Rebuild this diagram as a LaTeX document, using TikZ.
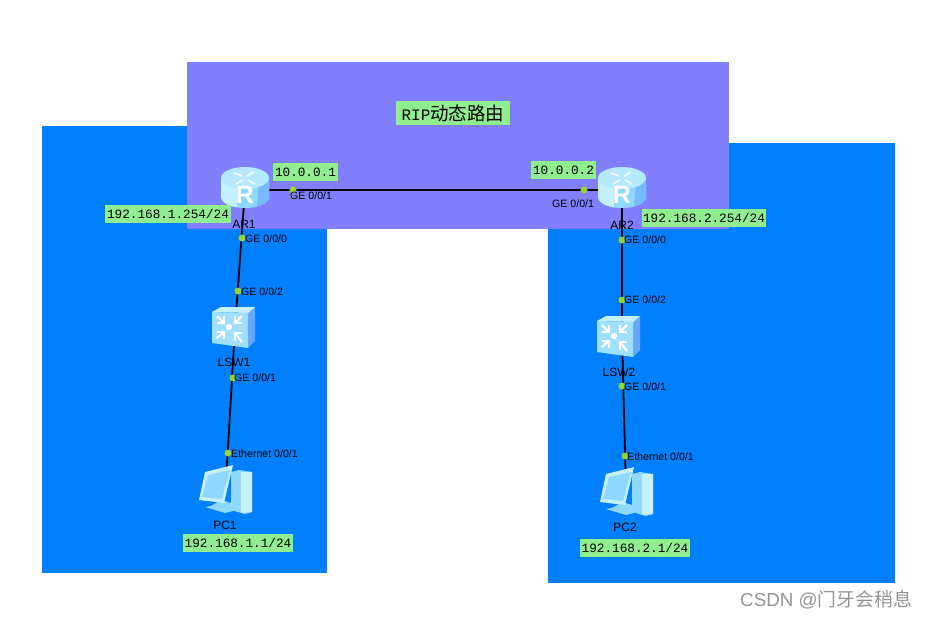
\documentclass[tikz,border=0pt]{standalone}
\usepackage{fontspec}
\setmainfont{Liberation Sans}
\setmonofont{Liberation Mono}
\newfontfamily\cjk{Noto Sans CJK SC}
\definecolor{areablue}{HTML}{0080FF}
\definecolor{areapurple}{HTML}{8080FF}
\definecolor{notegreen}{HTML}{90EE90}
\definecolor{portgreen}{HTML}{9AD02F}
\definecolor{iconlight}{HTML}{C4F0FF}
\definecolor{iconmid}{HTML}{8FD8FF}
\definecolor{icondark}{HTML}{66A8FF}
\tikzset{
  devname/.style={inner sep=0pt,font=\fontsize{12}{14}\selectfont},
  iflabel/.style={inner sep=0pt,font=\fontsize{10.6}{12}\selectfont},
  port/.style={circle,fill=portgreen,inner sep=0pt,minimum size=7pt},
  hub/.style={inner sep=0pt,minimum size=0pt},
  note/.style={fill=notegreen,inner sep=0pt,minimum height=18pt,font=\ttfamily\fontsize{12.7}{14}\selectfont},
  link/.style={line width=1.8pt,black},
  router/.pic={
    \fill[iconmid] (-24,-9) -- (-24,10) arc[start angle=180,end angle=0,x radius=24,y radius=11]
      -- (24,-9) -- cycle;
    \fill[iconlight] (-24,10) arc[start angle=180,end angle=110,x radius=24,y radius=11]
      -- (-8,-5) -- (-24,-9) -- cycle;
    \fill[icondark!60!iconmid] (24,10) arc[start angle=0,end angle=60,x radius=24,y radius=11]
      -- (14,-5) -- (24,-9) -- cycle;
    \fill[iconlight!70!iconmid] (0,-9) ellipse[x radius=24,y radius=11];
    \draw[white,line width=1.8pt,opacity=.8] (-11,-14) -- (-3,-11) (9,-15) -- (2,-11)
      (-9,-3) -- (-2,-7) (10,-3) -- (3,-7);
    \node[inner sep=0pt,white,font=\bfseries\fontsize{25}{26}\selectfont] at (0,8) {R};
  },
  switchbox/.pic={
    \fill[icondark] (12,-16) -- (22,-21) -- (22,13) -- (15,20) -- cycle;
    \fill[iconlight] (-21,-16) -- (-12,-21) -- (22,-21) -- (15,-15) -- cycle;
    \fill[iconmid!70!iconlight] (-21,-16) -- (15,-15) -- (15,20) -- (-21,15) -- cycle;
    \fill[white] (-4,-1) circle (3.2);
    \draw[white,line width=2.2pt] (-16,-12) -- (-9,-5) (9,-12) -- (2,-5)
      (-16,10) -- (-9,4) (9,14) -- (2,5);
    \draw[white,line width=1.2pt] (-16,-5) -- (-9,-5) -- (-9,-12) (2,-12) -- (2,-5) -- (9,-5)
      (-16,4) -- (-9,4) -- (-9,11) (2,13) -- (2,5) -- (9,5);
  },
  pcset/.pic={
    \fill[iconmid] (6,-20) -- (14,-22) -- (27,-20) -- (27,20) -- (20,22) -- (6,18) -- cycle;
    \fill[iconlight] (16,-20) -- (27,-20) -- (27,20) -- (16,21) -- cycle;
    \fill[iconmid] (-14,14) -- (-4,8) -- (10,12) -- (8,19) -- (0,21) -- (-20,15) -- cycle;
    \fill[iconlight] (-20,-20) -- (8,-27) -- (-1,11) -- (-26,8) -- cycle;
    \fill[iconmid] (-17,-17) -- (5,-22) -- (-3,7) -- (-23,5) -- cycle;
  },
}
\begin{document}
\begin{tikzpicture}[x=1pt,y=-1pt]
  \useasboundingbox (0,0) rectangle (928,619);
  \fill[white] (0,0) rectangle (928,619);
  \fill[areablue] (42,126) rectangle (327,573);
  \fill[areablue] (548,143) rectangle (895,583);
  \fill[areapurple] (187,62) rectangle (729,229);

  \node[hub] (AR1) at (245,190) {};
  \node[hub] (AR2) at (622,190) {};
  \node[hub] (LSW1) at (235,328) {};
  \node[hub] (LSW2) at (622,337) {};
  \node[hub] (PC1) at (225.5,490) {};
  \node[hub] (PC2) at (626,490) {};
  \draw[link] (AR1) -- (AR2);
  \draw[link] (AR1) -- (LSW1);
  \draw[link] (LSW1) -- (PC1);
  \draw[link] (AR2) -- (LSW2);
  \draw[link] (LSW2) -- (PC2);

  \pic at (245,187) {router};
  \pic at (622,187) {router};
  \pic at (233,328) {switchbox};
  \pic at (618,337) {switchbox};
  \pic at (225,492) {pcset};
  \pic at (626,494) {pcset};

  \node[devname] (nameAR1) at (244,224) {AR1};
  \node[devname] (nameAR2) at (622,225) {AR2};
  \node[devname] (nameLSW1) at (234,362) {LSW1};
  \node[devname] (nameLSW2) at (619,372) {LSW2};
  \node[devname] (namePC1) at (225,525) {PC1};
  \node[devname] (namePC2) at (625,527) {PC2};

  \node[port] (a1) at (293,190) {};
  \node[port] (a2) at (584,190) {};
  \node[port] (a3) at (242,238) {};
  \node[port] (a4) at (238,291) {};
  \node[port] (a5) at (233,378) {};
  \node[port] (a6) at (228,453) {};
  \node[port] (b3) at (622,240) {};
  \node[port] (b4) at (622,300) {};
  \node[port] (b5) at (622,386) {};
  \node[port] (b6) at (625,456) {};
  \node[iflabel,anchor=west] (la1) at (290,196) {GE 0/0/1};
  \node[iflabel,anchor=west] (la2) at (552,204) {GE 0/0/1};
  \node[iflabel,anchor=west] (la3) at (245,239) {GE 0/0/0};
  \node[iflabel,anchor=west] (la4) at (241,292) {GE 0/0/2};
  \node[iflabel,anchor=west] (la5) at (234,378) {GE 0/0/1};
  \node[iflabel,anchor=west] (la6) at (231,454) {Ethernet 0/0/1};
  \node[iflabel,anchor=west] (lb3) at (624,240) {GE 0/0/0};
  \node[iflabel,anchor=west] (lb4) at (624,300) {GE 0/0/2};
  \node[iflabel,anchor=west] (lb5) at (624,387) {GE 0/0/1};
  \node[iflabel,anchor=west] (lb6) at (627,457) {Ethernet 0/0/1};

  \node[note,minimum width=65pt] (ipa) at (305.5,172) {10.0.0.1};
  \node[note,minimum width=65pt] (ipb) at (563.5,170) {10.0.0.2};
  \node[note,minimum width=126pt] (lana) at (168,214) {192.168.1.254/24};
  \node[note,minimum width=124pt] (lanb) at (704,218) {192.168.2.254/24};
  \node[note,minimum width=110pt] (hosta) at (238,543) {192.168.1.1/24};
  \node[note,minimum width=110pt] (hostb) at (635,548) {192.168.2.1/24};
  \node[fill=notegreen,inner sep=0pt,minimum width=114pt,minimum height=24pt] (title) at (453,113)
    {\ttfamily\fontsize{16}{18}\selectfont RIP{\cjk\fontsize{18.5}{20}\selectfont 动态路由}};
  \node[inner sep=0pt,anchor=east,text=black!42,font=\fontsize{18.8}{20}\selectfont] (mark) at (912,600) {CSDN @{\cjk 门牙会稍息}};
\end{tikzpicture}
\end{document}
